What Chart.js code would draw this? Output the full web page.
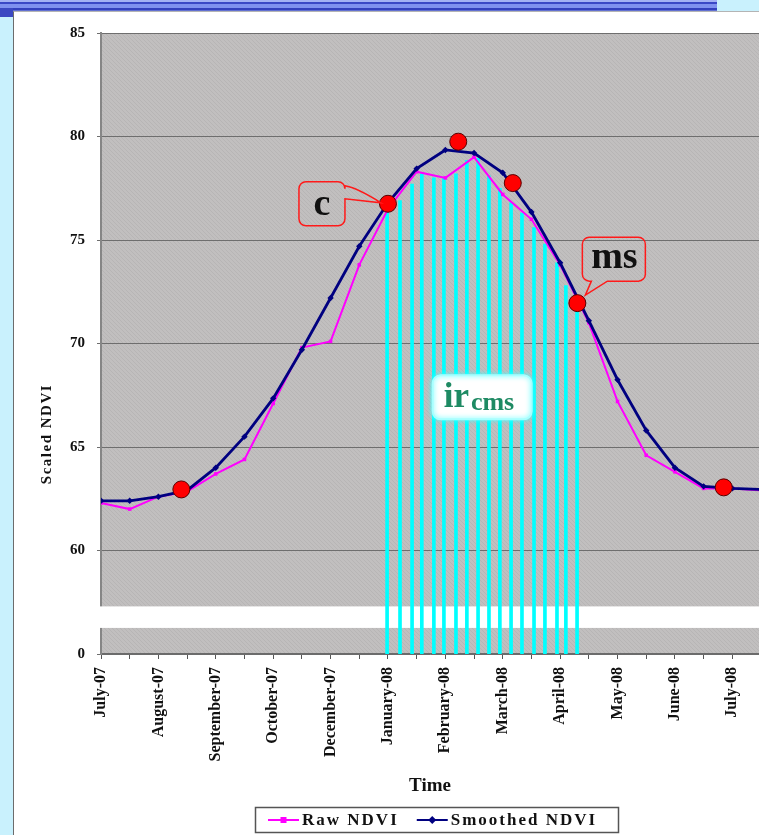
<!DOCTYPE html>
<html>
<head>
<meta charset="utf-8">
<title>Scaled NDVI</title>
<script src="https://cdn.jsdelivr.net/npm/chart.js@4.4.1/dist/chart.umd.min.js"></script>
<style>
  html, body { margin: 0; padding: 0; }
  body { width: 759px; height: 835px; position: relative; overflow: hidden; background: #c9f1fd; }
  #topbar { position: absolute; left: 0; top: 0; width: 717px; height: 11px;
    background: linear-gradient(to bottom, #a3b1f4 0px, #a3b1f4 2px, #3a48c6 2px, #3a48c6 4px,
      #7f91ef 4px, #7f91ef 8px, #3340bd 8px, #3340bd 10px, #6270d2 10px, #6270d2 11px); }
  #corner { position: absolute; left: 0; top: 8px; width: 13px; height: 9px; background: #3b48c2; }
  #panel { position: absolute; left: 13px; top: 11px; right: 0; bottom: 0; background: #fff;
    border-left: 1px solid #6c6c6c; border-top: 1px solid #b4b4b4; }
  canvas { position: absolute; left: 0; top: 0; }
</style>
</head>
<body>
<div id="topbar"></div>
<div id="corner"></div>
<div id="panel"></div>
<canvas id="ndviChart" width="759" height="835"></canvas>
<script>
// 16-day composites, July 2007 - July 2008
var months = ['July-07', '', 'August-07', '', 'September-07', '', 'October-07', '', 'December-07', '',
              'January-08', '', 'February-08', '', 'March-08', '', 'April-08', '', 'May-08', '',
              'June-08', '', 'July-08'];
var rawNdvi      = [62.3, 62.0, 62.6, 62.85, 63.7, 64.4, 67.1, 69.8, 70.1, 73.8, 76.5, 78.3,
                    78.0, 79.0, 77.2, 76.0, 73.8, 71.0, 67.2, 64.6, 63.8, 63.0, 63.0, 62.9];
var smoothedNdvi = [62.4, 62.4, 62.6, 62.9, 64.0, 65.5, 67.35, 69.7, 72.2, 74.7, 76.8, 78.45,
                    79.35, 79.2, 78.25, 76.35, 73.9, 71.1, 68.25, 65.8, 64.0, 63.1, 63.0, 62.95];

// phenology markers (position in composites, value)
var markerX = [2.8, 10.0, 12.45, 14.35, 16.6, 21.7];
var markerY = [62.95, 76.75, 79.75, 77.75, 71.95, 63.05];

// integral between c and ms
var irX   = [9.97, 10.42, 10.84, 11.18, 11.6, 11.95, 12.37, 12.75, 13.14, 13.52, 13.9, 14.29,
             14.67, 15.09, 15.47, 15.89, 16.2, 16.59];
var irTop = [76.7, 76.9, 77.7, 78.2, 78.0, 78.0, 78.2, 78.85, 78.95, 78.1, 77.5, 76.8,
             76.3, 75.6, 74.8, 73.9, 72.8, 71.9];

var yTicks = [55, 60, 65, 70, 75, 80, 85];
var axisFloor = 55;          // shown as "0" under the break
var breakLow = 56.26, breakHigh = 57.3;

var serif = "'Liberation Serif', 'Times New Roman', serif";
Chart.defaults.font.family = serif;
Chart.defaults.color = '#111';

function hatch(ctx) {
  var c = document.createElement('canvas');
  c.width = 4; c.height = 4;
  var g = c.getContext('2d');
  g.fillStyle = '#c1bfbf';
  g.fillRect(0, 0, 4, 4);
  g.fillStyle = '#b7b5b5';
  for (var i = 0; i < 4; i++) g.fillRect(i, i, 1, 1);
  return ctx.createPattern(c, 'repeat');
}

// rounded box with a pointer; tail = [x1, y1, tipX, tipY, x2, y2] on one side
function callout(ctx, x, y, w, h, r, side, tail) {
  ctx.beginPath();
  ctx.moveTo(x + r, y);
  ctx.lineTo(x + w - r, y);
  ctx.arcTo(x + w, y, x + w, y + r, r);
  if (side === 'right') {
    ctx.lineTo(tail[0], tail[1]);
    ctx.quadraticCurveTo(tail[0] + 12, tail[1] + 2, tail[2], tail[3]);
    ctx.lineTo(tail[4], tail[5]);
  }
  ctx.lineTo(x + w, y + h - r);
  ctx.arcTo(x + w, y + h, x + w - r, y + h, r);
  if (side === 'bottom') {
    ctx.lineTo(tail[0], tail[1]);
    ctx.lineTo(tail[2], tail[3]);
    ctx.lineTo(tail[4], tail[5]);
  }
  ctx.lineTo(x + r, y + h);
  ctx.arcTo(x, y + h, x, y + h - r, r);
  ctx.lineTo(x, y + r);
  ctx.arcTo(x, y, x + r, y, r);
  ctx.closePath();
}

var decor = {
  id: 'decor',
  beforeDraw: function (chart) {
    var a = chart.chartArea, ctx = chart.ctx;
    ctx.save();
    ctx.fillStyle = hatch(ctx);
    ctx.fillRect(a.left, a.top, a.right - a.left, a.bottom - a.top);
    ctx.restore();
  },
  beforeDatasetsDraw: function (chart) {
    // axis break
    var a = chart.chartArea, ctx = chart.ctx, y = chart.scales.y;
    var top = y.getPixelForValue(breakHigh), bot = y.getPixelForValue(breakLow);
    ctx.save();
    ctx.fillStyle = '#fff';
    ctx.fillRect(a.left - 4, top, a.right - a.left + 4, bot - top);
    ctx.restore();
  },
  afterDatasetsDraw: function (chart) {
    var ctx = chart.ctx, xs = chart.scales.x, ys = chart.scales.y;
    ctx.save();
    ctx.lineWidth = 1.5;
    ctx.strokeStyle = '#ff1a1a';

    // "c" at start of season
    var cx = xs.getPixelForValue(markerX[1]), cy = ys.getPixelForValue(markerY[1]);
    var bx = cx - 89, by = cy - 22;
    callout(ctx, bx, by, 46, 44, 7, 'right', [bx + 46, by + 4, cx - 7, cy - 1, bx + 46, by + 17]);
    ctx.stroke();
    ctx.fillStyle = '#111';
    ctx.font = 'bold 38px ' + serif;
    ctx.textAlign = 'center';
    ctx.textBaseline = 'alphabetic';
    ctx.fillText('c', bx + 23, by + 33);

    // "ms" at end of season
    var mx = xs.getPixelForValue(markerX[4]), my = ys.getPixelForValue(markerY[4]);
    bx = mx + 5; by = my - 66;
    callout(ctx, bx, by, 63, 44, 7, 'bottom', [bx + 25, by + 44, mx + 8, my - 8, bx + 9, by + 44]);
    ctx.stroke();
    ctx.fillText('ms', bx + 32, by + 31);

    // ir_cms label
    var ix = xs.getPixelForValue(13.3), iy = ys.getPixelForValue(67.4);
    bx = ix - 50; by = iy - 22;
    ctx.shadowColor = '#40ffff';
    ctx.shadowBlur = 5;
    ctx.fillStyle = '#fff';
    ctx.strokeStyle = '#a8ffff';
    ctx.lineWidth = 2;
    ctx.beginPath();
    ctx.roundRect(bx, by, 99, 44, 8);
    ctx.fill();
    ctx.stroke();
    ctx.shadowBlur = 0;
    ctx.fillStyle = '#1e8a63';
    ctx.textAlign = 'left';
    ctx.font = 'bold 35px ' + serif;
    ctx.fillText('ir', bx + 11, by + 32);
    var w = ctx.measureText('ir').width;
    ctx.font = 'bold 26px ' + serif;
    ctx.fillText('cms', bx + 13 + w, by + 35);
    ctx.restore();
  },
  afterDraw: function (chart) {
    var ctx = chart.ctx;
    ctx.save();
    // y title
    ctx.translate(47, 434);
    ctx.rotate(-Math.PI / 2);
    ctx.font = 'bold 15px ' + serif;
    ctx.letterSpacing = '1.5px';
    ctx.fillStyle = '#111';
    ctx.textAlign = 'center';
    ctx.textBaseline = 'middle';
    ctx.fillText('Scaled NDVI', 0, 0);
    ctx.restore();

    // legend
    ctx.save();
    ctx.strokeStyle = '#555';
    ctx.lineWidth = 1.5;
    ctx.strokeRect(255.5, 807.5, 363, 25);
    ctx.font = 'bold 17px ' + serif;
    ctx.letterSpacing = '2px';
    ctx.textBaseline = 'middle';
    ctx.textAlign = 'left';
    var lx = 268, ly = 820;
    [0, 1].forEach(function (i) {
      var ds = chart.data.datasets[i];
      ctx.strokeStyle = ds.borderColor;
      ctx.fillStyle = ds.borderColor;
      ctx.lineWidth = 2;
      ctx.beginPath();
      ctx.moveTo(lx, ly);
      ctx.lineTo(lx + 31, ly);
      ctx.stroke();
      ctx.beginPath();
      if (ds.pointStyle === 'rect') {
        ctx.rect(lx + 12.5, ly - 3, 6, 6);
      } else {
        ctx.moveTo(lx + 15.5, ly - 4);
        ctx.lineTo(lx + 19.5, ly);
        ctx.lineTo(lx + 15.5, ly + 4);
        ctx.lineTo(lx + 11.5, ly);
        ctx.closePath();
      }
      ctx.fill();
      ctx.fillStyle = '#111';
      ctx.fillText(ds.label, lx + 34, ly + 1);
      lx += 34 + ctx.measureText(ds.label).width + 18;
    });
    ctx.restore();
  }
};

var ctx = document.getElementById('ndviChart').getContext('2d');
var ndviChart = new Chart(ctx, {
  type: 'line',
  data: {
    datasets: [
      {
        label: 'Raw NDVI',
        data: rawNdvi.map(function (v, i) { return { x: i, y: v }; }),
        borderColor: '#ff00ff',
        backgroundColor: '#ff00ff',
        borderWidth: 2,
        pointStyle: 'rect',
        pointRadius: 2.5,
        pointBorderWidth: 0,
        tension: 0,
        order: 2
      },
      {
        label: 'Smoothed NDVI',
        data: smoothedNdvi.map(function (v, i) { return { x: i, y: v }; }),
        borderColor: '#000080',
        backgroundColor: '#000080',
        borderWidth: 2.8,
        pointStyle: 'rectRot',
        pointRadius: 3.2,
        pointBorderWidth: 0,
        tension: 0,
        order: 1
      },
      {
        type: 'bar',
        label: 'ir',
        data: irX.map(function (x, i) { return { x: x, y: [axisFloor, irTop[i]] }; }),
        backgroundColor: '#00ffff',
        borderWidth: 0,
        barThickness: 3,
        grouped: false,
        order: 3
      },
      {
        label: 'markers',
        data: markerX.map(function (x, i) { return { x: x, y: markerY[i] }; }),
        showLine: false,
        pointRadius: 8.5,
        pointBackgroundColor: '#ff0000',
        pointBorderColor: '#5a0000',
        pointBorderWidth: 1,
        order: 0
      }
    ]
  },
  options: {
    responsive: false,
    animation: false,
    events: [],
    layout: { autoPadding: false, padding: { left: 0, right: 0, top: 33, bottom: 38 } },
    plugins: { legend: { display: false }, tooltip: { enabled: false } },
    scales: {
      x: {
        type: 'linear',
        min: 0,
        max: 22.93,
        offset: false,
        afterBuildTicks: function (s) {
          s.ticks = months.map(function (m, i) { return { value: i }; });
        },
        afterFit: function (s) {
          s.height = 143;
          s.paddingLeft = 0;
          s.paddingRight = 0;
        },
        grid: { drawOnChartArea: false, drawTicks: true, tickLength: 5, color: '#555', offset: false },
        border: { color: '#6a6a6a', width: 1.5 },
        ticks: {
          autoSkip: false,
          minRotation: 90,
          maxRotation: 90,
          padding: 8,
          font: { size: 16, weight: 'bold' },
          callback: function (v) { return months[v] || ''; }
        },
        title: {
          display: true,
          text: 'Time',
          font: { size: 19, weight: 'bold' },
          padding: { top: 0, bottom: 0 }
        }
      },
      y: {
        min: axisFloor,
        max: 85,
        afterBuildTicks: function (s) {
          s.ticks = yTicks.map(function (v) { return { value: v }; });
        },
        afterFit: function (s) {
          s.width = 101;
          s.paddingTop = 0;
          s.paddingBottom = 0;
        },
        grid: { color: '#6e6e6e', lineWidth: 1, tickLength: 4 },
        border: { color: '#868686', width: 2 },
        ticks: {
          padding: 12,
          font: { size: 15, weight: 'bold' },
          callback: function (v) { return v === axisFloor ? '0' : v; }
        }
      }
    }
  },
  plugins: [decor]
});
</script>
</body>
</html>
